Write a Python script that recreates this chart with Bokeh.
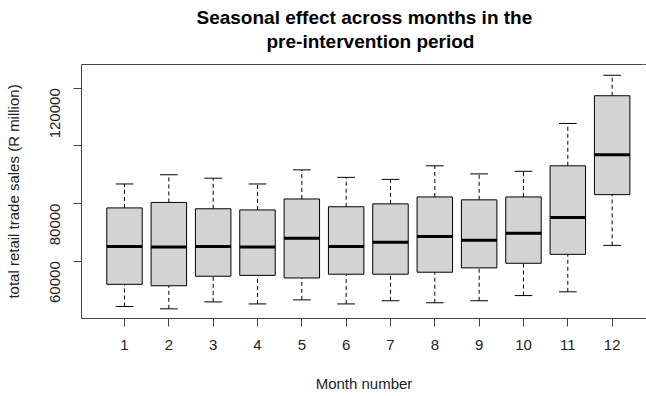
import numpy as np
from bokeh.plotting import figure
from bokeh.models import Range1d, LinearAxis, FixedTicker, Title, ColumnDataSource
from bokeh.embed import file_html
from bokeh.resources import INLINE

# ---- data ----
months = [1, 2, 3, 4, 5, 6, 7, 8, 9, 10, 11, 12]
whisker_low = [44300, 43500, 45900, 45200, 46600, 45200, 46300, 45600, 46300, 48100, 49400, 65500]
q1 = [52000, 51500, 54800, 55100, 54200, 55500, 55500, 56200, 57700, 59300, 62400, 83100]
median = [65100, 64900, 65100, 64900, 68000, 65100, 66600, 68600, 67300, 69700, 75200, 96900]
q3 = [78500, 80400, 78200, 77800, 81600, 78900, 79900, 82300, 81300, 82300, 93100, 117400]
whisker_high = [86800, 90000, 88800, 86800, 91700, 89100, 88400, 93100, 90300, 91200, 107800, 124500]
y_ticks = [60000, 80000, 100000, 120000]
y_tick_labels = {60000: "60000", 80000: "80000", 100000: "", 120000: "120000"}

title_line1 = "Seasonal effect across months in the"
title_line2 = "pre-intervention period"
x_label = "Month number"
y_label = "total retail trade sales (R million)"

box_width = 0.8
cap_width = 0.4

m = np.array(months, dtype=float)
src = ColumnDataSource(dict(
    x=m, lo=whisker_low, q1=q1, med=median, q3=q3, hi=whisker_high,
    bl=m - box_width / 2, br=m + box_width / 2,
    cl=m - cap_width / 2, cr=m + cap_width / 2,
))

FONT = "Liberation Sans"
FRAME = "#444444"

p = figure(width=646, height=396, output_backend="svg", toolbar_location=None,
           x_range=Range1d(0.030, 12.775), y_range=Range1d(40145, 128237),
           min_border_left=81, min_border_right=0, min_border_top=64, min_border_bottom=78,
           background_fill_color="white", border_fill_color="white")
p.outline_line_color = None
p.xgrid.grid_line_color = None
p.ygrid.grid_line_color = None

# whiskers (dashed)
p.segment(x0="x", y0="q3", x1="x", y1="hi", source=src, line_color="black", line_width=1, line_dash="4 3")
p.segment(x0="x", y0="lo", x1="x", y1="q1", source=src, line_color="black", line_width=1, line_dash="4 3")
# caps
p.segment(x0="cl", y0="hi", x1="cr", y1="hi", source=src, line_color="black", line_width=1)
p.segment(x0="cl", y0="lo", x1="cr", y1="lo", source=src, line_color="black", line_width=1)
# boxes
p.vbar(x="x", width=box_width, bottom="q1", top="q3", source=src,
       fill_color="#d3d3d3", line_color="black", line_width=1)
# medians
p.segment(x0="bl", y0="med", x1="br", y1="med", source=src, line_color="black", line_width=3)

# axes
xa = p.xaxis[0]
xa.ticker = FixedTicker(ticks=months)
xa.axis_label = x_label
xa.axis_label_text_font = FONT
xa.axis_label_text_font_size = "15px"
xa.axis_label_text_font_style = "normal"
xa.axis_label_text_color = "#222222"
xa.axis_label_standoff = 22
xa.major_label_text_font = FONT
xa.major_label_text_font_size = "15px"
xa.major_label_text_color = "#222222"
xa.major_label_standoff = 13
xa.major_tick_out = 8
xa.major_tick_in = 0
xa.minor_tick_line_color = None
xa.axis_line_color = FRAME
xa.major_tick_line_color = FRAME

ya = p.yaxis[0]
ya.ticker = FixedTicker(ticks=y_ticks)
ya.major_label_overrides = y_tick_labels
ya.major_label_orientation = np.pi / 2
ya.axis_label = y_label
ya.axis_label_text_font = FONT
ya.axis_label_text_font_size = "15px"
ya.axis_label_text_font_style = "normal"
ya.axis_label_text_color = "#222222"
ya.axis_label_standoff = 21
ya.major_label_text_font = FONT
ya.major_label_text_font_size = "15px"
ya.major_label_text_color = "#222222"
ya.major_label_standoff = 18
ya.major_tick_out = 8
ya.major_tick_in = 0
ya.minor_tick_line_color = None
ya.axis_line_color = FRAME
ya.major_tick_line_color = FRAME

# frame top line; a single white (invisible) tick reserves the gap below the title
spacer_tick = [months[-1] + 0.7]
top_axis = LinearAxis(ticker=FixedTicker(ticks=spacer_tick), major_tick_out=12, major_tick_in=0,
                      minor_tick_line_color=None, major_tick_line_color="white",
                      major_label_overrides={spacer_tick[0]: ""},
                      major_label_text_font_size="1px",
                      major_label_standoff=0, axis_line_color=FRAME)
p.add_layout(top_axis, "above")

t2 = Title(text=title_line2, align="left", offset=185, text_font=FONT, text_font_size="19px",
           text_font_style="bold", text_color="black", standoff=2)
p.add_layout(t2, "above")

p.title.text = title_line1
p.title.align = "left"
p.title.offset = 115
p.title.text_font = FONT
p.title.text_font_size = "19px"
p.title.text_font_style = "bold"
p.title.text_color = "black"
p.title.standoff = 0

open("out.html", "w").write(file_html(p, INLINE))
